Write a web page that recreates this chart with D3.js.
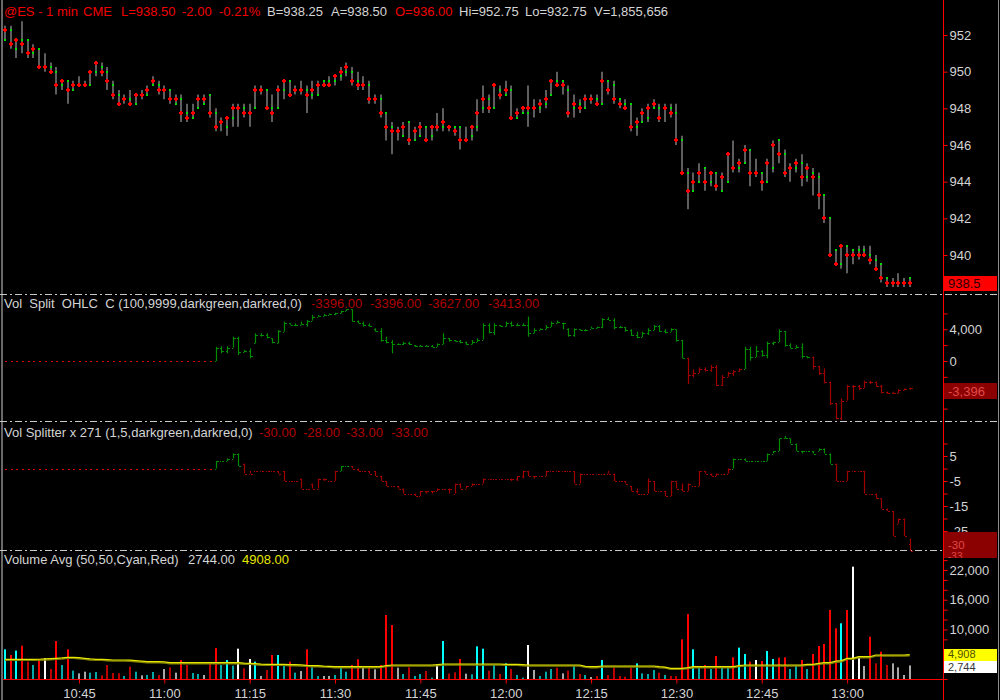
<!DOCTYPE html>
<html>
<head>
<meta charset="utf-8">
<script src="https://cdn.jsdelivr.net/npm/d3@7/dist/d3.min.js"></script>
<style>
html,body{margin:0;padding:0;background:#000;overflow:hidden}
svg{display:block}
text{font-family:"Liberation Sans",Arial,Helvetica,sans-serif;white-space:pre}
</style>
</head>
<body>
<svg id="chart" width="1000" height="700"></svg>
<script>
// ================= DATA =================
const firstBarTime = "10:32";
const timeTickLabels = ["10:45","11:00","11:15","11:30","11:45","12:00","12:15","12:30","12:45","13:00"];
const priceTicks = [940,942,944,946,948,950,952];
const volSplitTicks = [-6000,-4000,-2000,0,2000,4000,6000];
const volSplitTickLabels = [4000,0];
const splitterTicks = [10,5,0,-5,-10,-15,-20,-25,-30];
const splitterTickLabels = [5,-5,-15,-25];
const volumeTicks = [0,2000,4000,6000,8000,10000,12000,14000,16000,18000,20000,22000,24000];
const volumeTickLabels = [22000,16000,10000];

const headerParts = [
  ["@ES - 1 min","r"],["CME","r"],["L=938.50","r"],["-2.00","r"],["-0.21%","r"],
  ["B=938.25","g"],["A=938.50","g"],["O=936.00","r"],["Hi=952.75","g"],["Lo=932.75","g"],["V=1,855,656","g"]
];
const volSplitTitle = "Vol  Split  OHLC  C (100,9999,darkgreen,darkred,0)";
const splitterTitle = "Vol Splitter x 271 (1,5,darkgreen,darkred,0)";
const volumeTitle = "Volume Avg (50,50,Cyan,Red)";

// price bars [open, high, low, close], one per minute
const priceOHLC = [
[951.75,952.5,951.75,952.25],[952.25,952.5,951.25,951.5],[951.25,951.75,950.75,951.75],[951.75,952.75,951.0,951.5],[951.75,951.75,950.75,951.0],
[951.0,951.5,950.75,951.25],[951.25,951.25,950.25,950.25],[950.25,951.0,950.0,950.25],[950.25,950.5,950.0,950.0],[950.0,950.25,948.75,949.25],
[949.25,949.5,949.0,949.5],[949.5,949.5,948.25,949.0],[949.0,949.5,949.0,949.25],[949.25,949.75,949.25,949.25],[949.25,949.5,949.25,949.25],
[949.25,950.0,949.25,950.0],[950.0,950.5,949.75,950.5],[950.25,950.5,949.75,950.0],[950.0,950.25,949.0,949.5],[949.25,949.5,948.5,948.75],
[948.75,949.0,948.25,948.25],[948.5,948.75,948.25,948.5],[948.5,949.0,948.25,948.25],[948.25,948.75,948.25,948.75],[948.75,949.0,948.5,948.75],
[948.75,949.25,948.75,949.0],[949.25,949.75,949.25,949.5],[949.25,949.5,948.75,949.0],[949.0,949.25,948.5,949.0],[949.0,949.0,948.25,948.5],
[948.25,948.75,948.25,948.5],[948.5,948.75,947.25,947.75],[947.75,948.25,947.25,947.5],[947.5,948.25,947.5,947.75],[948.0,948.75,948.0,948.5],
[948.25,948.75,948.25,948.5],[948.75,948.75,947.5,947.75],[947.75,948.0,946.75,947.0],[947.25,947.5,946.75,947.25],[947.0,947.5,946.5,947.5],
[947.5,948.25,947.0,948.0],[948.0,948.25,947.0,948.0],[948.0,948.25,947.5,947.75],[947.75,948.25,947.0,947.75],[948.0,949.25,948.0,949.0],
[949.0,949.25,948.75,949.0],[949.0,949.0,948.0,948.0],[948.0,948.75,947.25,947.75],[948.0,949.25,948.0,949.0],[949.0,949.5,948.5,949.5],
[949.5,949.5,948.75,948.75],[949.0,949.25,948.75,949.0],[949.0,949.5,948.75,949.0],[949.0,949.25,947.75,948.75],[948.75,949.5,948.5,949.0],
[948.75,949.5,948.75,949.25],[949.5,949.5,949.25,949.25],[949.5,949.75,949.25,949.25],[949.5,949.75,949.25,949.75],[949.75,950.25,949.5,950.0],
[950.0,950.5,949.75,950.25],[950.0,950.25,949.25,949.5],[949.5,950.0,949.0,949.25],[949.25,949.75,949.0,949.25],[949.25,949.5,948.25,948.5],
[948.5,948.75,948.25,948.5],[948.5,948.75,947.5,947.75],[947.75,947.75,946.25,947.0],[947.0,947.25,945.5,946.75],[946.75,947.0,946.25,946.75],
[946.5,947.25,946.5,947.0],[947.25,947.25,946.0,946.25],[946.25,947.0,946.25,946.75],[946.5,947.25,946.5,947.0],[947.0,947.0,946.25,946.25],
[946.5,947.0,946.25,947.0],[947.0,947.75,946.75,947.0],[947.0,948.0,946.75,947.25],[947.0,947.0,946.75,947.0],[947.0,947.0,946.5,946.75],
[947.0,947.0,945.75,946.25],[946.25,947.0,946.25,946.25],[946.5,947.0,946.25,947.0],[947.0,948.5,946.75,947.75],[948.0,949.25,947.75,948.5],
[948.5,948.75,947.75,948.0],[948.0,949.25,948.0,949.25],[949.0,949.25,948.5,948.75],[948.75,949.5,948.75,949.0],[949.0,949.25,947.5,947.5],
[947.5,948.0,947.5,947.75],[947.75,948.0,947.75,948.0],[947.75,949.25,947.0,948.0],[948.0,948.5,947.5,948.0],[948.0,948.5,947.75,948.25],
[948.25,949.0,948.0,948.5],[948.75,949.5,948.75,949.5],[949.5,950.0,949.25,949.25],[949.5,949.5,948.75,949.25],[949.0,949.25,947.5,947.75],
[948.0,948.75,947.5,948.25],[948.25,948.5,947.75,948.0],[948.0,948.75,948.0,948.5],[948.5,948.75,948.25,948.5],[948.5,948.75,948.25,948.25],
[948.25,950.0,948.25,949.5],[949.5,949.5,948.75,949.0],[949.25,949.5,948.25,948.5],[948.5,948.5,948.0,948.25],[948.25,948.5,948.0,948.0],
[948.25,948.25,946.75,947.0],[947.0,947.5,946.5,947.25],[947.25,948.0,947.25,947.75],[947.5,948.25,947.25,948.0],[948.0,948.5,948.0,948.25],
[948.0,948.25,947.25,947.5],[948.0,948.25,947.25,948.0],[948.0,948.25,947.5,947.75],[947.75,948.25,946.0,946.25],[946.25,946.5,944.5,944.5],
[944.5,944.75,942.5,943.5],[943.5,944.5,943.5,944.0],[944.0,945.0,944.0,944.5],[944.75,944.75,943.5,944.0],[944.0,944.5,943.75,944.5],
[944.5,944.5,943.5,943.75],[943.5,944.5,943.5,944.25],[944.0,945.5,944.0,945.5],[944.75,946.25,944.5,944.75],[944.75,945.25,944.5,945.0],
[945.0,946.0,945.0,945.75],[945.75,945.75,943.75,944.5],[944.5,945.25,944.25,944.5],[944.5,944.5,943.5,944.0],[944.0,945.25,944.0,945.0],
[944.75,946.25,944.5,946.0],[946.25,946.25,945.0,945.5],[945.5,945.75,944.25,944.5],[944.75,945.0,944.0,944.75],[944.75,945.25,944.5,945.0],
[945.0,945.5,943.75,944.25],[944.25,945.0,944.0,944.75],[944.5,944.75,943.25,944.25],[944.25,944.5,942.5,943.25],[943.25,943.25,941.75,942.0],
[942.0,942.0,940.0,940.0],[940.25,940.25,939.5,939.5],[939.5,940.5,939.25,940.5],[940.5,940.5,939.0,940.0],[940.25,940.25,939.5,940.0],
[940.25,940.5,939.75,940.0],[940.25,940.5,940.0,940.0],[940.0,940.5,939.5,939.75],[939.75,940.0,939.25,939.25],[939.5,939.5,938.5,938.75],
[938.75,938.75,938.25,938.5],[938.5,938.75,938.25,938.5],[938.5,939.0,938.25,938.5],[938.5,938.75,938.25,938.5],[938.75,938.75,938.25,938.5]
];

// Vol Split OHLC indicator [open, high, low, close]
const volSplitOHLC = [
[0,0,0,0],[0,0,0,0],[0,0,0,0],[0,0,0,0],[0,0,0,0],[0,0,0,0],[0,0,0,0],[0,0,0,0],[0,0,0,0],[0,0,0,0],
[0,0,0,0],[0,0,0,0],[0,0,0,0],[0,0,0,0],[0,0,0,0],[0,0,0,0],[0,0,0,0],[0,0,0,0],[0,0,0,0],[0,0,0,0],
[0,0,0,0],[0,0,0,0],[0,0,0,0],[0,0,0,0],[0,0,0,0],[0,0,0,0],[0,0,0,0],[0,0,0,0],[0,0,0,0],[0,0,0,0],
[0,0,0,0],[0,0,0,0],[0,0,0,0],[0,0,0,0],[0,0,0,0],[0,0,0,0],[0,0,0,0],
[0,1800,0,1700],[1700,1870,970,1200],[1200,1870,970,1700],
[1700,3070,1700,2900],[2900,3070,760,1100],[1100,1400,1100,1300],[1300,1600,340,600],[2300,3500,2230,3300],
[3300,3500,3070,3300],[3300,3500,2860,3000],[2860,2860,2230,2400],[2300,3900,2230,3800],[3700,4970,3700,4800],
[4750,4750,4550,4600],[4600,4750,4400,4600],[4600,4970,4550,4700],[4700,5180,4340,5100],[5100,5810,5180,5600],
[5600,5810,5600,5700],[5700,5940,5650,5800],[5800,6000,5800,5900],[5900,6100,5800,6000],[6000,6360,6100,6300],
[6300,6530,6350,6500],[6500,6530,4970,5100],[5100,5100,4750,4800],[4800,4970,4340,4500],[4500,4750,4340,4400],
[4100,4130,3700,3800],[3800,4130,2440,2700],[2700,3070,2230,2400],[2400,2650,970,2200],[2200,2230,2020,2100],
[2100,2440,2020,2300],[2300,2440,2020,2200],[2000,2020,1750,1850],[1850,2020,1810,1900],[1900,2020,1810,1950],
[1950,2020,1750,1800],[1800,2230,1800,2100],[2100,3490,2230,2900],[2900,2860,2440,2600],[2600,2650,2440,2500],
[2500,2650,2230,2400],[2400,2440,2020,2100],[2100,2650,2230,2400],[2400,2860,2440,2700],[2700,4750,2860,4600],
[4600,4750,3490,3600],[3600,4750,3280,4500],[4500,4550,4340,4400],[4400,4970,4340,4800],[4800,4970,4340,4500],
[4500,4750,4400,4600],[4600,4750,4400,4500],[4500,5600,3070,3500],[3500,4130,3490,3900],[3900,4130,3920,4000],
[4000,4550,4130,4300],[4300,4970,4550,4800],[4800,5100,4750,4900],[4800,4840,4000,4750],[4100,4130,3070,3300],
[3300,4130,3070,4000],[4000,4000,3830,3900],[3900,4000,3750,3950],[4100,4340,4130,4200],[4200,4340,4130,4250],
[4250,5390,4130,5300],[5300,5520,5180,5200],[5200,5390,4000,4300],[4300,4420,4130,4300],[4300,4250,3700,3900],
[3900,4000,3160,3300],[3300,3700,2860,3000],[3000,3700,3070,3500],[3500,4130,3280,3900],[3900,4550,3900,4400],
[4400,4550,3700,3800],[3800,4000,3490,3700],[3700,4130,3900,4000],[4000,4000,2440,2600],[2600,2650,340,400],
[400,340,-2900,-1800],[-1800,-1050,-2060,-1500],[-1500,-800,-1140,-950],[-950,-800,-1350,-1100],[-1100,-500,-1350,-700],
[-700,-500,-3160,-3000],[-3000,-1770,-3160,-2000],[-2000,-1350,-1900,-1500],[-1500,-1140,-1900,-1300],[-1300,-930,-1350,-1000],
[-1000,1810,-720,1500],[1500,1810,40,500],[500,1900,760,1200],[1200,1390,550,700],[700,2440,340,2300],
[2300,2440,2020,2400],[2400,4000,2440,3800],[3800,3070,1810,2000],[2000,2230,1600,1700],[1700,2020,1600,1800],
[1800,2230,340,600],[600,600,340,450],[450,550,-1050,-600],[-600,-720,-1770,-1500],[-1500,-930,-2820,-2600],
[-2600,-2610,-5560,-5300],[-5300,-5350,-7370,-7200],[-7200,-4720,-7450,-5000],[-5000,-3030,-4930,-3200],[-3200,-3030,-4930,-3100],
[-3100,-3030,-3660,-3400],[-3400,-2480,-3030,-2700],[-2700,-2480,-2900,-2600],[-2600,-3030,-3240,-3100],[-3100,-3030,-4080,-3900],
[-3900,-3870,-4170,-4000],[-4000,-3870,-4170,-4050],[-4050,-3580,-4080,-3700],[-3700,-3450,-3660,-3500],[-3396,-3396,-3627,-3413]
];

// Vol Splitter x 271 [open, high, low, close]
const splitterOHLC = [
[0,0,0,0],[0,0,0,0],[0,0,0,0],[0,0,0,0],[0,0,0,0],[0,0,0,0],[0,0,0,0],[0,0,0,0],[0,0,0,0],[0,0,0,0],
[0,0,0,0],[0,0,0,0],[0,0,0,0],[0,0,0,0],[0,0,0,0],[0,0,0,0],[0,0,0,0],[0,0,0,0],[0,0,0,0],[0,0,0,0],
[0,0,0,0],[0,0,0,0],[0,0,0,0],[0,0,0,0],[0,0,0,0],[0,0,0,0],[0,0,0,0],[0,0,0,0],[0,0,0,0],[0,0,0,0],
[0,0,0,0],[0,0,0,0],[0,0,0,0],[0,0,0,0],[0,0,0,0],[0,0,0,0],[0,0,0,0],
[0,3,0,3],[3,3,3,3],[3,4,3,4],
[4,6,4,6],[6,6,1,1],[2,2,-2,-2],[-2,-1,-2,-2],[-1,-1,-1,-1],[-1,-1,-1,-1],[-1,-1,-1,-1],[-1,-1,-1,-1],[-1,-1,-2,-2],[-1,-1,-5,-5],
[-5,-5,-5,-5],[-5,-5,-5,-5],[-4,-4,-8,-8],[-8,-8,-8,-8],[-6,-6,-8,-8],[-8,-4,-8,-4],[-4,-4,-5,-4],[-5,-5,-5,-5],[-5,-1,-5,-1],[-1,1,-1,1],
[1,1,1,1],[1,1,0,0],[0,0,-1,-1],[-1,-1,-1,-1],[-1,-1,-2,-2],[-1,-1,-3,-3],[-3,-3,-5,-5],[-5,-5,-7,-7],[-7,-7,-7,-7],[-7,-7,-8,-8],
[-8,-8,-10,-10],[-10,-10,-10,-10],[-10,-10,-11,-11],[-11,-9,-11,-9],[-9,-9,-10,-9],[-9,-9,-10,-9],[-9,-8,-9,-8],[-8,-8,-8,-8],[-8,-8,-10,-8],[-10,-6,-10,-6],
[-6,-6,-8,-8],[-8,-7,-8,-7],[-7,-6,-7,-6],[-6,-6,-6,-6],[-6,-4,-6,-4],[-4,-4,-4,-4],[-4,-4,-4,-4],[-4,-4,-4,-4],[-4,-4,-4,-4],[-4,-4,-5,-4],
[-4,-3,-5,-3],[-3,-1,-4,-1],[-1,-1,-3,-3],[-3,-3,-4,-3],[-3,-3,-3,-3],[-3,-1,-3,-1],[-1,-1,-1,-1],[-1,-1,-1,-1],[-1,-1,-1,-1],[-1,-1,-1,-1],
[-1,-1,-6,-6],[-6,-2,-6,-2],[-2,-2,-2,-2],[-2,-2,-2,-2],[-2,-2,-2,-2],[-2,-2,-2,-2],[-2,-1,-2,-2],[-2,-2,-5,-5],[-5,-5,-5,-5],[-5,-5,-6,-6],
[-7,-7,-9,-9],[-9,-8,-10,-10],[-10,-10,-10,-10],[-10,-4,-10,-5],[-5,-5,-9,-9],[-9,-9,-9,-9],[-9,-9,-11,-11],[-11,-5,-11,-5],[-5,-5,-8,-8],[-8,-6,-9,-9],
[-9,-6,-9,-6],[-7,-7,-7,-7],[-7,-1,-7,-1],[-1,-1,-2,-2],[-2,-2,-3,-3],[-3,-2,-3,-2],[-2,-2,-2,-2],[-2,0,-2,0],[0,4,0,4],[4,4,4,4],
[4,4,3,3],[3,3,3,3],[3,3,3,3],[3,3,3,3],[3,6,3,6],[6,7,6,7],[7,12,7,12],[12,13,12,12],[12,12,10,10],[10,10,7,7],
[7,7,6,7],[7,7,7,7],[7,7,6,6],[7,8,7,8],[8,8,6,6],[6,6,2,2],[2,2,-5,-5],[-5,-5,-5,-5],[-5,-1,-5,-1],[-1,-1,-1,-1],
[-1,-1,-1,-1],[-1,-1,-10,-10],[-10,-10,-10,-10],[-10,-10,-12,-12],[-12,-12,-16,-16],[-16,-16,-17,-17],[-17,-17,-27,-27],[-22,-20,-22,-20],[-20,-20,-27,-27],[-30,-28,-33,-33]
];

// volume per minute
const volume = [
5990,4840,5720,6730,3500,2830,4040,4170,2020,7670,
2830,5990,1680,1140,1480,1280,1410,740,2830,1210,
1140,610,2490,1480,740,810,1410,810,2020,2350,
1280,3830,2830,1210,1010,810,3160,6260,2830,3830,
2690,6120,2150,4040,3500,610,1820,4840,4840,2830,
3500,1280,1610,5990,2350,610,610,610,810,2490,
1480,2830,3970,2490,2490,1950,2830,12920,10900,2290,
1010,2350,610,1010,1610,270,2960,7670,1080,1350,
4040,1080,940,6590,6120,1680,2830,1010,3160,2020,
810,270,6860,1820,610,1480,2020,2290,1140,1680,
2690,1010,810,400,610,3830,810,2290,610,470,
2290,3160,1140,1010,1820,1280,810,610,610,8000,
13120,5990,2490,2830,2020,4640,2350,2490,4370,6330,
5040,3500,3830,3630,5650,4040,4300,4370,2020,2690,
3830,2020,5040,6660,7060,13920,10230,11240,13920,22670,
4640,2620,8540,3160,5510,2830,3160,2350,810,2744
];

// 50-period volume average
const volumeAvg = [
3970,3970,3970,3970,3970,3970,3990,4050,4100,4170,
4250,4370,4370,4300,4170,4050,3970,3970,3900,3830,
3830,3830,3800,3700,3600,3500,3500,3500,3450,3300,
3300,3300,3300,3300,3300,3300,3300,3300,3300,3300,
3300,3300,3200,3160,3100,3000,2960,2960,2960,2960,
2900,2900,2850,2750,2690,2690,2600,2550,2490,2490,
2490,2490,2490,2490,2490,2490,2500,2700,2830,2830,
2830,2830,2830,2830,2830,2830,2900,3030,3030,3030,
3030,3030,3030,3030,3030,3030,3030,3030,2960,2960,
2960,2900,2830,2830,2830,2830,2830,2830,2830,2830,
2830,2830,2560,2490,2490,2620,2620,2620,2620,2620,
2620,2620,2620,2620,2620,2490,2400,2150,2150,2150,
2300,2490,2490,2490,2490,2490,2490,2490,2490,2700,
2830,2830,2830,2830,2830,2830,2830,2830,2830,2830,
2830,2960,2960,3160,3300,3300,3600,3700,4170,4170,
4500,4500,4500,4840,4840,4840,4840,4840,4840,4908
];

// ================= RENDER =================
const W = 1000, H = 700;
const AXIS_X = 943;
const FONT = '"Liberation Sans", Arial, Helvetica, sans-serif';
const C = {
  red:"#f00000", grey:"#d4d4d4", dim:"#b00000", green:"#008e00", dred:"#a00000",
  sep:"#c8c8c8", axis:"#ff0000"
};
const loc = d3.formatLocale({decimal:".",thousands:",",grouping:[3],currency:["",""],minus:"-"});
const f2 = loc.format(".2f"), fc = loc.format(","), f1 = loc.format(".1f");

const svg = d3.select("#chart");
svg.append("rect").attr("width",W).attr("height",H).attr("fill","#000");

const toMin = s => { const [h,m] = s.split(":").map(Number); return h*60+m; };
const t0 = toMin(firstBarTime);
const n = priceOHLC.length;
const x = d3.scaleLinear().domain([0, n-1]).range([5, 5 + (n-1)*5.69]);
const px = i => Math.round(x(i));

const yP = d3.scaleLinear().domain([940,952]).range([255,35]);
const y2 = d3.scaleLinear().domain([0,4000]).range([361,329.3]);
const y3 = d3.scaleLinear().domain([-5,5]).range([481,456]);
const y4 = d3.scaleLinear().domain([0,22000]).range([679,570]);

// frame
svg.append("line").attr("x1",2).attr("x2",2).attr("y1",0).attr("y2",H).attr("stroke","#8c8c8c").attr("stroke-width",1.5);
svg.append("line").attr("x1",998.5).attr("x2",998.5).attr("y1",0).attr("y2",H).attr("stroke","#8c8c8c").attr("stroke-width",1);

// separators
[294.5, 421.5, 550.5].forEach(yy=>{
  svg.append("line").attr("x1",0).attr("x2",998).attr("y1",yy).attr("y2",yy)
    .attr("stroke",C.sep).attr("stroke-width",1).attr("stroke-dasharray","7,3,2,3");
});

// ---- price bars ----
const gP = svg.append("g");
gP.selectAll("line.hl").data(priceOHLC).join("line").attr("class","hl")
  .attr("x1",(d,i)=>px(i)).attr("x2",(d,i)=>px(i))
  .attr("y1",d=>yP(d3.max(d))).attr("y2",d=>yP(d3.min(d)))
  .attr("stroke","#5e5e5e").attr("stroke-width",2);
gP.selectAll("rect.op").data(priceOHLC).join("rect").attr("class","op")
  .attr("x",(d,i)=>px(i)-1).attr("y",d=>Math.round(yP(d[0]))-1)
  .attr("width",2).attr("height",2).attr("fill","#00e000");
gP.selectAll("rect.ch").data(priceOHLC).join("rect").attr("class","ch")
  .attr("x",(d,i)=>px(i)-2).attr("y",d=>Math.round(yP(d[3]))-1)
  .attr("width",4).attr("height",2).attr("fill","#ff0000");
gP.selectAll("rect.cv").data(priceOHLC).join("rect").attr("class","cv")
  .attr("x",(d,i)=>px(i)-1).attr("y",d=>Math.round(yP(d[3]))-2)
  .attr("width",2).attr("height",4).attr("fill","#ff0000");

// ---- indicator bars ----
function indicator(data, y, tickL, tickR){
  const g = svg.append("g");
  const col = d => d[3] > 0 ? C.green : C.dred;
  const flatZero = d => d[0]===0 && d[1]===0 && d[2]===0 && d[3]===0;
  data.forEach((d,i)=>{
    const xi = px(i);
    if (flatZero(d)) {
      g.append("rect").attr("x",xi).attr("y",Math.round(y(0))).attr("width",2).attr("height",1).attr("fill","#e00000");
      return;
    }
    g.append("line").attr("x1",xi+0.5).attr("x2",xi+0.5)
      .attr("y1",y(d3.max(d))).attr("y2",y(d3.min(d)))
      .attr("stroke",col(d)).attr("stroke-width",1.2);
    g.append("rect").attr("x",xi-tickL).attr("y",Math.round(y(d[0]))).attr("width",tickL).attr("height",1).attr("fill",col(d));
    g.append("rect").attr("x",xi+1).attr("y",Math.round(y(d[3]))).attr("width",tickR).attr("height",1).attr("fill",col(d));
  });
}
indicator(volSplitOHLC, y2, 1, 2);
indicator(splitterOHLC, y3, 1, 2);

// ---- volume ----
const gV = svg.append("g");
function volColor(i){
  const prev = i === 0 ? priceOHLC[0][0] : priceOHLC[i-1][3];
  const c = priceOHLC[i][3];
  const hi = volume[i] > volumeAvg[i];
  if (c > prev) return hi ? "#00ffff" : "#00a8a8";
  if (c < prev) return hi ? "#ff0000" : "#bb0000";
  return hi ? "#ffffff" : "#a8a8a8";
}
gV.selectAll("rect").data(volume).join("rect")
  .attr("x",(d,i)=>px(i)-1).attr("width",2)
  .attr("y",d=>y4(d)).attr("height",d=>y4(0)-y4(d))
  .attr("fill",(d,i)=>volColor(i));
const avgLine = d3.line().x((d,i)=>x(i)).y(d=>y4(d));
gV.append("path").datum(volumeAvg).attr("d",avgLine).attr("fill","none")
  .attr("stroke","#808000").attr("stroke-width",1.5).attr("transform","translate(0,1)");
gV.append("path").datum(volumeAvg).attr("d",avgLine).attr("fill","none")
  .attr("stroke","#e6e600").attr("stroke-width",1.2);

// ---- axes ----
svg.append("line").attr("x1",AXIS_X+0.5).attr("x2",AXIS_X+0.5).attr("y1",0).attr("y2",H)
  .attr("stroke",C.axis).attr("stroke-width",1);
svg.append("line").attr("x1",3).attr("x2",AXIS_X).attr("y1",679.5).attr("y2",679.5)
  .attr("stroke",C.axis).attr("stroke-width",1);

function rightAxis(scale, ticks, labels, fmt){
  const ax = d3.axisRight(scale).tickValues(ticks).tickSize(4).tickPadding(2)
    .tickFormat(d => labels.includes(d) ? fmt(d) : "");
  const g = svg.append("g").attr("transform",`translate(${AXIS_X+0.5},0)`).call(ax)
    .attr("font-family",FONT).attr("font-size",13);
  g.select(".domain").remove();
  g.selectAll(".tick line").attr("stroke",C.axis);
  g.selectAll(".tick text").attr("fill",C.grey);
}
rightAxis(yP, priceTicks, priceTicks, d=>String(d));
rightAxis(y2, volSplitTicks, volSplitTickLabels, fc);
rightAxis(y3, splitterTicks, splitterTickLabels, fc);
rightAxis(y4, volumeTicks, volumeTickLabels, fc);

const tickIdx = timeTickLabels.map(s => toMin(s) - t0);
const axB = d3.axisBottom(x).tickValues(tickIdx).tickSize(4).tickPadding(5)
  .tickFormat((d,i)=>timeTickLabels[i]);
const gB = svg.append("g").attr("transform","translate(0,679.5)").call(axB)
  .attr("font-family",FONT).attr("font-size",13);
gB.select(".domain").remove();
gB.selectAll(".tick line").attr("stroke",C.axis);
gB.selectAll(".tick text").attr("fill",C.grey);

// ---- value boxes ----
function box(y0, h, fill){
  svg.append("rect").attr("x",AXIS_X+1).attr("y",y0).attr("width",997-AXIS_X-1).attr("height",h).attr("fill",fill);
}
function boxText(txt, yc, fill, fs){
  return svg.append("text").attr("x",948).attr("y",yc).attr("dy","0.36em").attr("font-family",FONT)
    .attr("font-size",fs||13).attr("fill",fill).text(txt);
}
const lastP = priceOHLC[n-1], lastS = volSplitOHLC[n-1], lastT = splitterOHLC[n-1];
box(276, 15, "#ff0000"); boxText(f1(lastP[3]), 283.5, "#2a0000");
box(383, 16, "#8b0000"); boxText(fc(lastS[0]), 391, "#e04a4a");
svg.append("clipPath").attr("id","clipT").append("rect").attr("x",AXIS_X).attr("y",532).attr("width",60).attr("height",26);
box(532, 26, "#8b0000");
boxText(fc(lastT[0]), 544.4, "#e04a4a", 11.5);
boxText(fc(lastT[3]), 556.5, "#e04a4a", 10).attr("clip-path","url(#clipT)");
box(649, 12, "#ffff00"); boxText(fc(volumeAvg[n-1]), 654.5, "#505000", 11);
box(661, 12, "#ffffff"); boxText(fc(volume[n-1]), 667.5, "#383838", 11);

// ---- header & titles ----
const headerX = [4, 83, 121, 182, 219, 267, 331, 395, 459, 525, 594];
headerParts.forEach(([t,c],i)=>{
  svg.append("text").attr("x",headerX[i]).attr("y",16).attr("font-family",FONT).attr("font-size",13)
    .attr("fill", c==="r" ? C.red : C.grey).text(t);
});
svg.append("text").attr("x",4).attr("y",308).attr("font-family",FONT).attr("font-size",13).attr("fill",C.grey).text(volSplitTitle);
[311,370,428,488].forEach((xx,i)=>{
  svg.append("text").attr("x",xx).attr("y",308).attr("font-family",FONT).attr("font-size",13).attr("fill",C.dim).text(f2(lastS[i]));
});
svg.append("text").attr("x",4).attr("y",437).attr("font-family",FONT).attr("font-size",13).attr("fill",C.grey).text(splitterTitle);
[259,303,346,391].forEach((xx,i)=>{
  svg.append("text").attr("x",xx).attr("y",437).attr("font-family",FONT).attr("font-size",13).attr("fill",C.dim).text(f2(lastT[i]));
});
svg.append("text").attr("x",4).attr("y",564).attr("font-family",FONT).attr("font-size",13).attr("fill",C.grey).text(volumeTitle);
svg.append("text").attr("x",188).attr("y",564).attr("font-family",FONT).attr("font-size",13).attr("fill",C.grey).text(f2(volume[n-1]));
svg.append("text").attr("x",242).attr("y",564).attr("font-family",FONT).attr("font-size",13).attr("fill","#e6e600").text(f2(volumeAvg[n-1]));
</script>
</body>
</html>
